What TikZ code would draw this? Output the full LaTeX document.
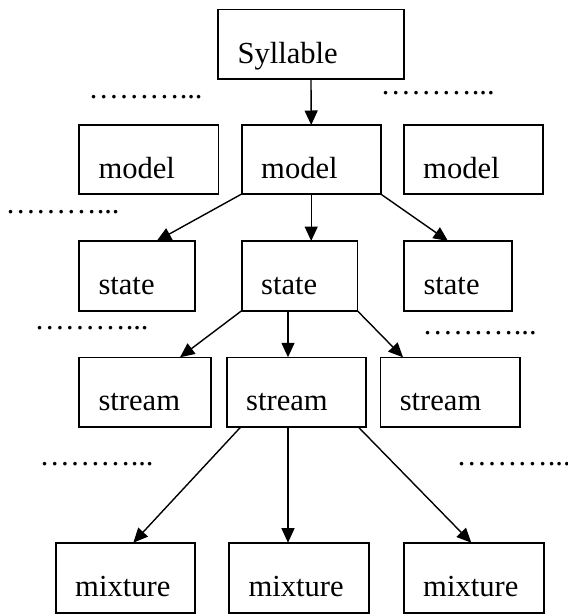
\documentclass[tikz,border=0pt]{standalone}
\usepackage{fontspec}
\setmainfont{Liberation Serif}
\usetikzlibrary{arrows.meta}
\tikzset{
  box/.style={draw=black, line width=1.6pt, rectangle, inner sep=0pt, outer sep=0pt, anchor=north west},
  lbl/.style={inner sep=0pt, outer sep=0pt, anchor=base west, font=\fontsize{30.6}{36}\selectfont},
  dotrow/.style={inner sep=0pt, outer sep=0pt, anchor=base west, font=\fontsize{30.4}{36}\selectfont},
  link/.style={line width=1.4pt, -{Triangle[length=14.5pt,width=13pt]}},
}
% a framed cell: name, left, top, right, bottom, text
\newcommand\cell[6]{%
  \node[box, minimum width={#4-#2}, minimum height={#5-#3}] (#1) at (#2,#3) {};
  \node[lbl] (#1-text) at ([xshift=19.5pt,yshift=-53.5pt]#1.north west) {#6};
}
\begin{document}
\begin{tikzpicture}[x=1pt,y=-1pt]
\useasboundingbox (0,0) rectangle (568,614);

% top level
\cell{syl}{218}{9.5}{404}{79}{Syllable}

% models
\cell{modL}{79}{125}{218.3}{194}{model}
\cell{modM}{241.7}{125}{380.7}{194}{model}
\cell{modR}{403.7}{125}{543}{194}{model}

% states
\cell{stL}{79}{241}{195}{310.7}{state}
\cell{stM}{241.7}{241}{357.3}{310.7}{state}
\cell{stR}{404}{241}{512}{310.7}{state}

% streams
\cell{srL}{79}{357.3}{210.7}{426.7}{stream}
\cell{srM}{226.7}{357.3}{365.7}{426.7}{stream}
\cell{srR}{380.3}{357.3}{519.7}{426.7}{stream}

% mixtures
\cell{mxL}{55.7}{542.7}{195}{612.7}{mixture}
\cell{mxM}{229}{542.7}{368.7}{612.7}{mixture}
\cell{mxR}{403.7}{542.7}{543.7}{612.7}{mixture}

% dotted ellipses between the levels
\node[dotrow] (d1) at (88.6,98.5) {………...};
\node[dotrow] (d2) at (380.6,94.2) {………...};
\node[dotrow] (d3) at (5.6,213.5) {………...};
\node[dotrow] (d4) at (34.6,329.5) {………...};
\node[dotrow] (d5) at (422.6,334.2) {………...};
\node[dotrow] (d6) at (39.6,465.5) {………...};
\node[dotrow] (d7) at (456.6,465.5) {………...};

% connectors
\draw[link] (syl.south) -- (modM.north);
\draw[link] (modM.south west) -- ([xshift=77.7pt]stL.north west);
\draw[link] (modM.south) -- (modM.south |- stM.north);
\draw[link] (modM.south east) -- ([xshift=44pt]stR.north west);

\draw[link] (stM.south west) -- ([xshift=101pt]srL.north west);
\draw[link] ([xshift=46.3pt]stM.south west) -- ([xshift=46.3pt]stM.south west |- srM.north);
\draw[link] (stM.south east) -- ([xshift=22.7pt]srR.north west);

\draw[link] ([xshift=14.3pt]srM.south west) -- ([xshift=77.6pt]mxL.north west);
\draw[link] ([xshift=61.3pt]srM.south west) -- ([xshift=61.3pt]srM.south west |- mxM.north);
\draw[link] ([xshift=131.3pt]srM.south west) -- ([xshift=67.6pt]mxR.north west);
\end{tikzpicture}
\end{document}
